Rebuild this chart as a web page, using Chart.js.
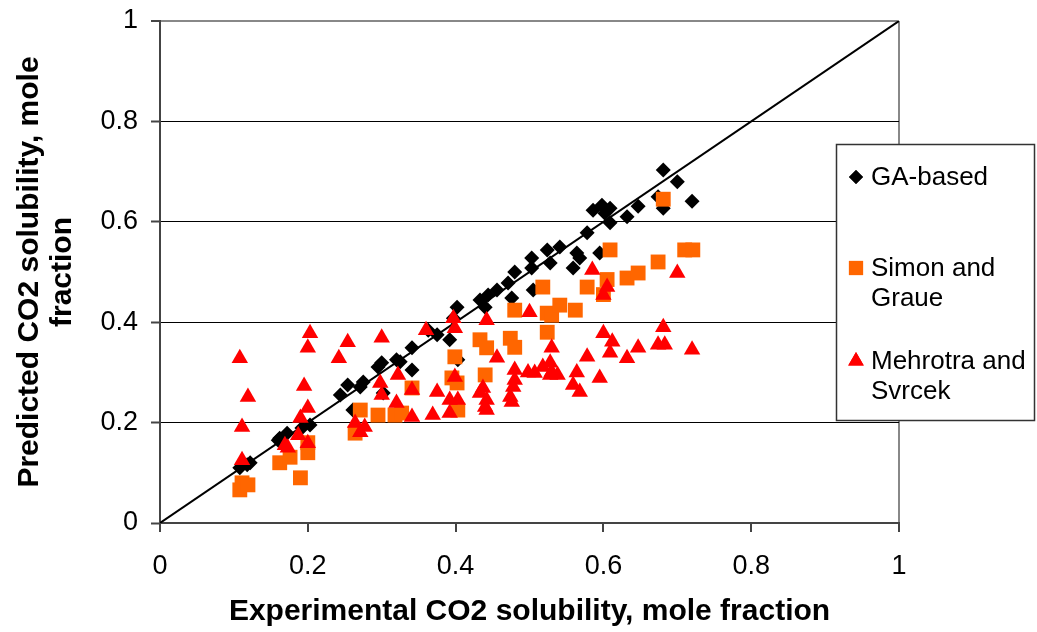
<!DOCTYPE html>
<html lang="en">
<head>
<meta charset="UTF-8">
<title>CO2 solubility: predicted vs experimental</title>
<script src="https://cdn.jsdelivr.net/npm/chart.js"></script>
<style>
  html, body { margin: 0; padding: 0; background: #fff; }
  #wrap { position: relative; width: 1037px; height: 632px; }
</style>
</head>
<body>
<div id="wrap"><canvas id="chart" width="1037" height="632"></canvas></div>
<script>
// --- data (experimental x, predicted y) ---
const gaX = [0.108,0.118,0.122,0.160,0.162,0.172,0.192,0.203,0.244,0.254,0.261,0.271,0.275,0.295,0.300,0.302,0.320,0.325,0.341,0.341,0.363,0.375,0.392,0.397,0.402,0.403,0.433,0.440,0.444,0.456,0.471,0.476,0.480,0.503,0.503,0.505,0.524,0.528,0.541,0.559,0.564,0.568,0.578,0.586,0.595,0.598,0.602,0.609,0.609,0.632,0.647,0.674,0.681,0.681,0.700,0.720];
const gaY = [0.110,0.116,0.120,0.165,0.169,0.179,0.189,0.195,0.255,0.275,0.225,0.271,0.281,0.311,0.319,0.259,0.325,0.321,0.349,0.305,0.384,0.375,0.365,0.408,0.430,0.325,0.444,0.430,0.454,0.464,0.478,0.448,0.500,0.528,0.508,0.464,0.544,0.518,0.550,0.508,0.538,0.528,0.578,0.623,0.538,0.633,0.617,0.627,0.598,0.610,0.631,0.650,0.703,0.627,0.680,0.641];

const sgX = [0.108,0.111,0.119,0.162,0.176,0.190,0.200,0.200,0.264,0.271,0.295,0.318,0.327,0.341,0.395,0.399,0.402,0.403,0.433,0.440,0.442,0.474,0.480,0.480,0.518,0.524,0.524,0.530,0.541,0.562,0.578,0.600,0.605,0.609,0.632,0.647,0.674,0.681,0.710,0.721];
const sgY = [0.066,0.080,0.076,0.120,0.131,0.090,0.160,0.140,0.179,0.225,0.215,0.215,0.219,0.269,0.289,0.331,0.279,0.225,0.365,0.295,0.349,0.368,0.350,0.424,0.470,0.418,0.380,0.414,0.434,0.424,0.470,0.455,0.485,0.544,0.488,0.498,0.520,0.645,0.544,0.544];

const msX = [0.108,0.119,0.111,0.111,0.169,0.173,0.187,0.190,0.195,0.200,0.200,0.200,0.203,0.242,0.254,0.264,0.271,0.277,0.298,0.300,0.300,0.320,0.322,0.341,0.341,0.360,0.369,0.375,0.392,0.392,0.397,0.399,0.399,0.403,0.433,0.437,0.440,0.442,0.442,0.442,0.456,0.474,0.476,0.478,0.480,0.480,0.498,0.500,0.507,0.518,0.528,0.528,0.530,0.530,0.538,0.559,0.564,0.568,0.578,0.585,0.595,0.600,0.600,0.605,0.609,0.612,0.632,0.647,0.674,0.681,0.683,0.700,0.720];
const msY = [0.328,0.251,0.191,0.125,0.155,0.150,0.175,0.209,0.273,0.229,0.159,0.349,0.378,0.328,0.360,0.199,0.181,0.191,0.279,0.255,0.369,0.239,0.295,0.265,0.211,0.384,0.215,0.261,0.245,0.219,0.408,0.388,0.291,0.245,0.259,0.269,0.231,0.404,0.245,0.225,0.329,0.251,0.241,0.271,0.285,0.305,0.300,0.420,0.299,0.311,0.319,0.295,0.349,0.301,0.295,0.275,0.300,0.261,0.331,0.504,0.289,0.378,0.454,0.470,0.339,0.361,0.328,0.349,0.355,0.390,0.355,0.498,0.345];

const seriesNames = ['GA-based', 'Simon and Graue', 'Mehrotra and Svrcek'];
const legendLines = [['GA-based'], ['Simon and', 'Graue'], ['Mehrotra and', 'Svrcek']];
const tickValues = [0, 0.2, 0.4, 0.6, 0.8, 1];
const parityLine = [0, 1];

const pts = (xs, ys) => xs.map((x, i) => ({ x: x, y: ys[i] }));
const FONT = "'Liberation Sans', Arial, Helvetica, sans-serif";

// legend box drawn over the right of the plot, as in the original
const boxLegend = {
  id: 'boxLegend',
  afterDraw(chart) {
    const ctx = chart.ctx;
    const bx = 836, by = 144, bw = 199, bh = 277;
    ctx.save();
    ctx.fillStyle = '#fff';
    ctx.fillRect(bx, by, bw, bh);
    ctx.strokeStyle = '#333';
    ctx.lineWidth = 1.5;
    ctx.strokeRect(bx + 0.5, by + 0.5, bw - 1, bh - 1);
    const rows = [177, 268, 361];
    ctx.font = '26px ' + FONT;
    ctx.textBaseline = 'middle';
    chart.data.datasets.slice(0, 3).forEach((ds, i) => {
      const y = rows[i];
      ctx.fillStyle = ds.backgroundColor;
      ctx.beginPath();
      Chart.helpers.drawPoint(ctx, {
        pointStyle: ds.pointStyle, radius: ds.legendRadius, rotation: 0, borderWidth: 0
      }, 856, y);
      ctx.fill();
      ctx.fillStyle = '#000';
      legendLines[i].forEach((t, j) => ctx.fillText(t, 871, y + 1 + j * 30));
    });
    ctx.restore();
  }
};

new Chart(document.getElementById('chart'), {
  type: 'scatter',
  data: {
    datasets: [
      { label: seriesNames[0], data: pts(gaX, gaY), pointStyle: 'rectRot', pointRadius: 7.5, legendRadius: 7,
        backgroundColor: '#000000', borderColor: '#000000', borderWidth: 0, order: 3 },
      { label: seriesNames[1], data: pts(sgX, sgY), pointStyle: 'rect', pointRadius: 10.5, legendRadius: 10,
        backgroundColor: '#FF6600', borderColor: '#FF6600', borderWidth: 0, order: 2 },
      { label: seriesNames[2], data: pts(msX, msY), pointStyle: 'triangle', pointRadius: 9.5, legendRadius: 9,
        backgroundColor: '#FF0000', borderColor: '#FF0000', borderWidth: 0, order: 1 },
      { type: 'line', label: 'y = x', data: pts(parityLine, parityLine), borderColor: '#000', borderWidth: 2,
        pointRadius: 0, fill: false, order: 4 }
    ]
  },
  plugins: [boxLegend],
  options: {
    responsive: false,
    animation: false,
    events: [],
    layout: { padding: { left: 0, right: 138, top: 21, bottom: 0 } },
    plugins: { legend: { display: false }, tooltip: { enabled: false } },
    scales: {
      x: {
        type: 'linear', min: 0, max: 1,
        afterFit: s => { s.height = 109; s.paddingLeft = 0; s.paddingRight = 0; },
        afterBuildTicks: s => { s.ticks = tickValues.map(v => ({ value: v })); },
        ticks: { color: '#000', padding: 18, font: { family: FONT, size: 27 },
                 callback: v => String(v), maxRotation: 0 },
        grid: { drawOnChartArea: true, tickLength: 9, tickWidth: 2, tickColor: '#444',
                color: c => c.tick && c.tick.value === 1 ? '#888' : 'rgba(0,0,0,0)', lineWidth: 2 },
        border: { color: '#444', width: 2 },
        title: { display: true, text: 'Experimental CO2 solubility, mole fraction', color: '#000',
                 font: { family: FONT, size: 30, weight: 'bold' }, padding: { top: 4, bottom: 2 } }
      },
      y: {
        type: 'linear', min: 0, max: 1,
        afterFit: s => { s.width = 160; s.paddingTop = 0; s.paddingBottom = 0; },
        afterBuildTicks: s => { s.ticks = tickValues.map(v => ({ value: v })); },
        ticks: { color: '#000', padding: 13, font: { family: FONT, size: 27 }, callback: v => String(v) },
        grid: { tickLength: 9, tickWidth: 2, tickColor: '#444',
                color: c => {
                  if (!c.tick) return '#000';
                  if (c.tick.value === 0) return 'rgba(0,0,0,0)';
                  if (c.tick.value === 1) return '#888';
                  return '#000';
                },
                lineWidth: c => c.tick && c.tick.value === 1 ? 2 : 1 },
        border: { color: '#444', width: 2 },
        title: { display: true, text: ['Predicted CO2 solubility, mole', 'fraction'], color: '#000',
                 font: { family: FONT, size: 30, weight: 'bold', lineHeight: 1.1 }, padding: { top: 13, bottom: 0 } }
      }
    }
  }
});
</script>
</body>
</html>
